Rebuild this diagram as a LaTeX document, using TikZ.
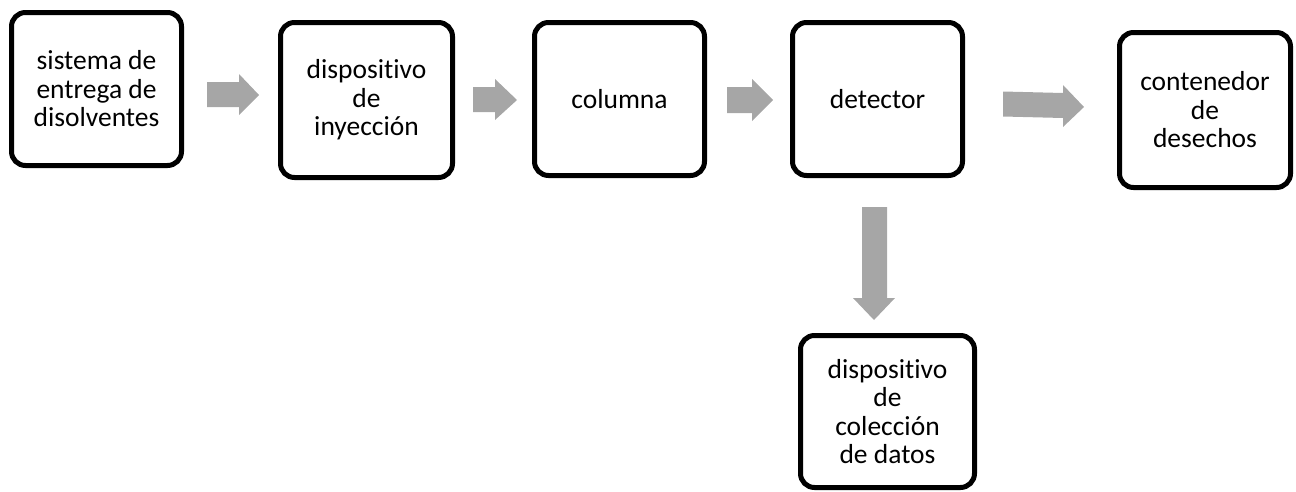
\documentclass[tikz,border=0pt]{standalone}
\usepackage{fontspec}
\setmainfont{Carlito}[Ligatures={NoCommon,NoContextual}]
\definecolor{arrowgray}{HTML}{A6A6A6}
\tikzset{
  box/.style={draw=black, line width=5pt, rounded corners=14pt, fill=white,
    inner sep=0pt, align=center, font=\fontsize{27.5}{28.5}\selectfont},
  blockarrow/.style={fill=arrowgray, draw=none}
}
\begin{document}
\begin{tikzpicture}[x=1pt,y=-1pt]
\useasboundingbox (0,0) rectangle (1296,491);
\node[box, minimum width=170pt, minimum height=153pt] (b1) at (96.5,89) {sistema de\\entrega de\\disolventes};
\node[box, minimum width=172pt, minimum height=155pt] (b2) at (366.5,100) {dispositivo\\de\\inyección};
\node[box, minimum width=170pt, minimum height=153pt] (b3) at (619.5,99) {columna};
\node[box, minimum width=170pt, minimum height=153pt] (b4) at (877.5,99) {detector};
\node[box, minimum width=171pt, minimum height=155pt] (b5) at (1205,110) {contenedor\\de\\desechos};
\node[box, minimum width=174pt, minimum height=152pt] (b6) at (887.5,411.5) {dispositivo\\de\\colección\\de datos};
% block arrows
\coordinate (a1) at (207,95);
\fill[blockarrow] (207,82) -- (239,82) -- (239,74) -- (259,95) -- (239,115) -- (239,107) -- (207,107) -- cycle;
\coordinate (a2) at (473,100);
\fill[blockarrow] (473,87) -- (495,87) -- (495,79) -- (517,100) -- (495,120) -- (495,112) -- (473,112) -- cycle;
\coordinate (a3) at (727,100);
\fill[blockarrow] (727,87) -- (752,87) -- (752,79) -- (773,100) -- (752,121) -- (752,113) -- (727,113) -- cycle;
\coordinate (a4) at (1003,104);
\fill[blockarrow] (1003,91.5) -- (1063,93) -- (1063,85) -- (1084,107) -- (1063,127) -- (1063,118) -- (1003,116.5) -- cycle;
\coordinate (a5) at (874,207);
\fill[blockarrow] (862,207) -- (887,207) -- (887,298) -- (895,298) -- (874,320) -- (853,298) -- (862,298) -- cycle;
\end{tikzpicture}
\end{document}
